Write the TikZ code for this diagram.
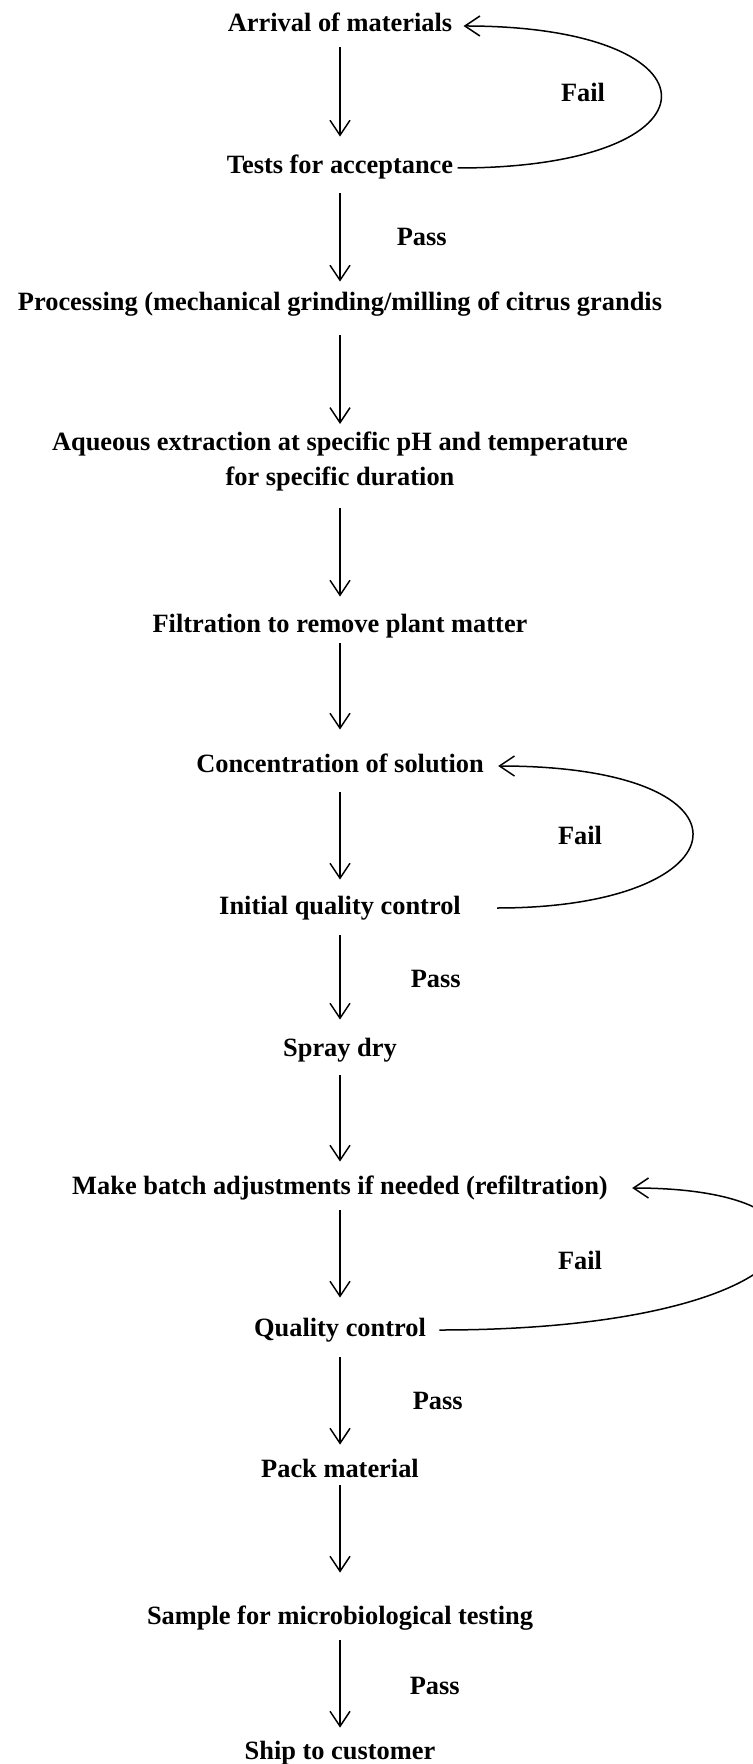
\documentclass[tikz,border=0pt]{standalone}
\usepackage{fontspec}
\setmainfont{Liberation Serif}
\usepackage{tikz}
\usetikzlibrary{arrows.meta}

\tikzstyle{stagetext}=[inner sep=0pt,font=\fontsize{13.2}{17.5}\selectfont\bfseries]
\tikzstyle{stage}=[stagetext,text height=9pt,text depth=3pt]
\tikzstyle{passfail}=[inner sep=0pt,font=\fontsize{13.2}{17.5}\selectfont\bfseries]
\tikzstyle{flow}=[-{Straight Barb[length=7.5pt,width=10pt]},line width=0.75pt]

\begin{document}
\begin{tikzpicture}[x=0.5pt,y=-0.5pt]

\useasboundingbox (0,0) rectangle (752,1764);

%%% Steps

\node [stage] (arrival) at (340,26) {Arrival of materials};
\node [stage] (tests) at (340,168) {Tests for acceptance};
\node [stage] (process) at (340,305) {Processing (mechanical grinding/milling of citrus grandis};
\node [stagetext,align=center] (extract) at (340,462)
{Aqueous extraction at specific pH and temperature \\
for specific duration};
\node [stage] (filter) at (340,626) {Filtration to remove plant matter};
\node [stage] (concentrate) at (340,766) {Concentration of solution};
\node [stage] (initqc) at (340,908) {Initial quality control};
\node [stage] (spray) at (340,1050) {Spray dry};
\node [stage] (adjust) at (340,1188) {Make batch adjustments if needed (refiltration)};
\node [stage] (qc) at (340,1330) {Quality control};
\node [stage] (pack) at (340,1471) {Pack material};
\node [stage] (sample) at (340,1618) {Sample for microbiological testing};
\node [stage] (ship) at (340,1753) {Ship to customer};

%%% Down arrows

\draw [flow,shorten <=4.5pt,shorten >=9.5pt] (arrival) -- (tests);

\draw [flow,shorten <=6.5pt,shorten >=5.5pt] (tests) -- (process)
node [passfail,right=28pt,midway] {Pass};

\draw [flow,shorten <=9pt,shorten >=4pt] (process) -- (extract);

\draw [flow,shorten <=8pt,shorten >=8.5pt] (extract) -- (filter);

\draw [flow,shorten <=2.5pt,shorten >=12pt] (filter) -- (concentrate);

\draw [flow,shorten <=7pt,shorten >=8pt] (concentrate) -- (initqc);

\draw [flow,shorten <=7.5pt,shorten >=9pt] (initqc) -- (spray)
node [passfail,right=35pt,midway] {Pass};

\draw [flow,shorten <=6.5pt,shorten >=7pt] (spray) -- (adjust);

\draw [flow,shorten <=5pt,shorten >=10pt] (adjust) -- (qc);

\draw [flow,shorten <=7.5pt,shorten >=7pt] (qc) -- (pack)
node [passfail,right=36pt,midway] {Pass};

\draw [flow,shorten <=1pt,shorten >=16.5pt] (pack) -- (sample);

\draw [flow,shorten <=5pt,shorten >=6.5pt] (sample) -- (ship)
node [passfail,right=34.5pt,midway] {Pass};

%%% Fail loops

\draw [flow,shorten <=2pt,shorten >=5.5pt]
(tests.east) .. controls +(275,0) and +(275,0) .. (arrival.east);
\node [passfail] (fail1) at (583,92) {Fail};

\draw [flow,shorten <=18pt,shorten >=7pt]
(initqc.east) .. controls +(285,0) and +(285,0) .. (concentrate.east);
\node [passfail] (fail2) at (580,835) {Fail};

\draw [flow,shorten <=6.5pt,shorten >=12pt]
(qc.east) .. controls +(400,0) and +(267,0) .. (adjust.east);
\node [passfail] (fail3) at (580,1260) {Fail};

\end{tikzpicture}
\end{document}
